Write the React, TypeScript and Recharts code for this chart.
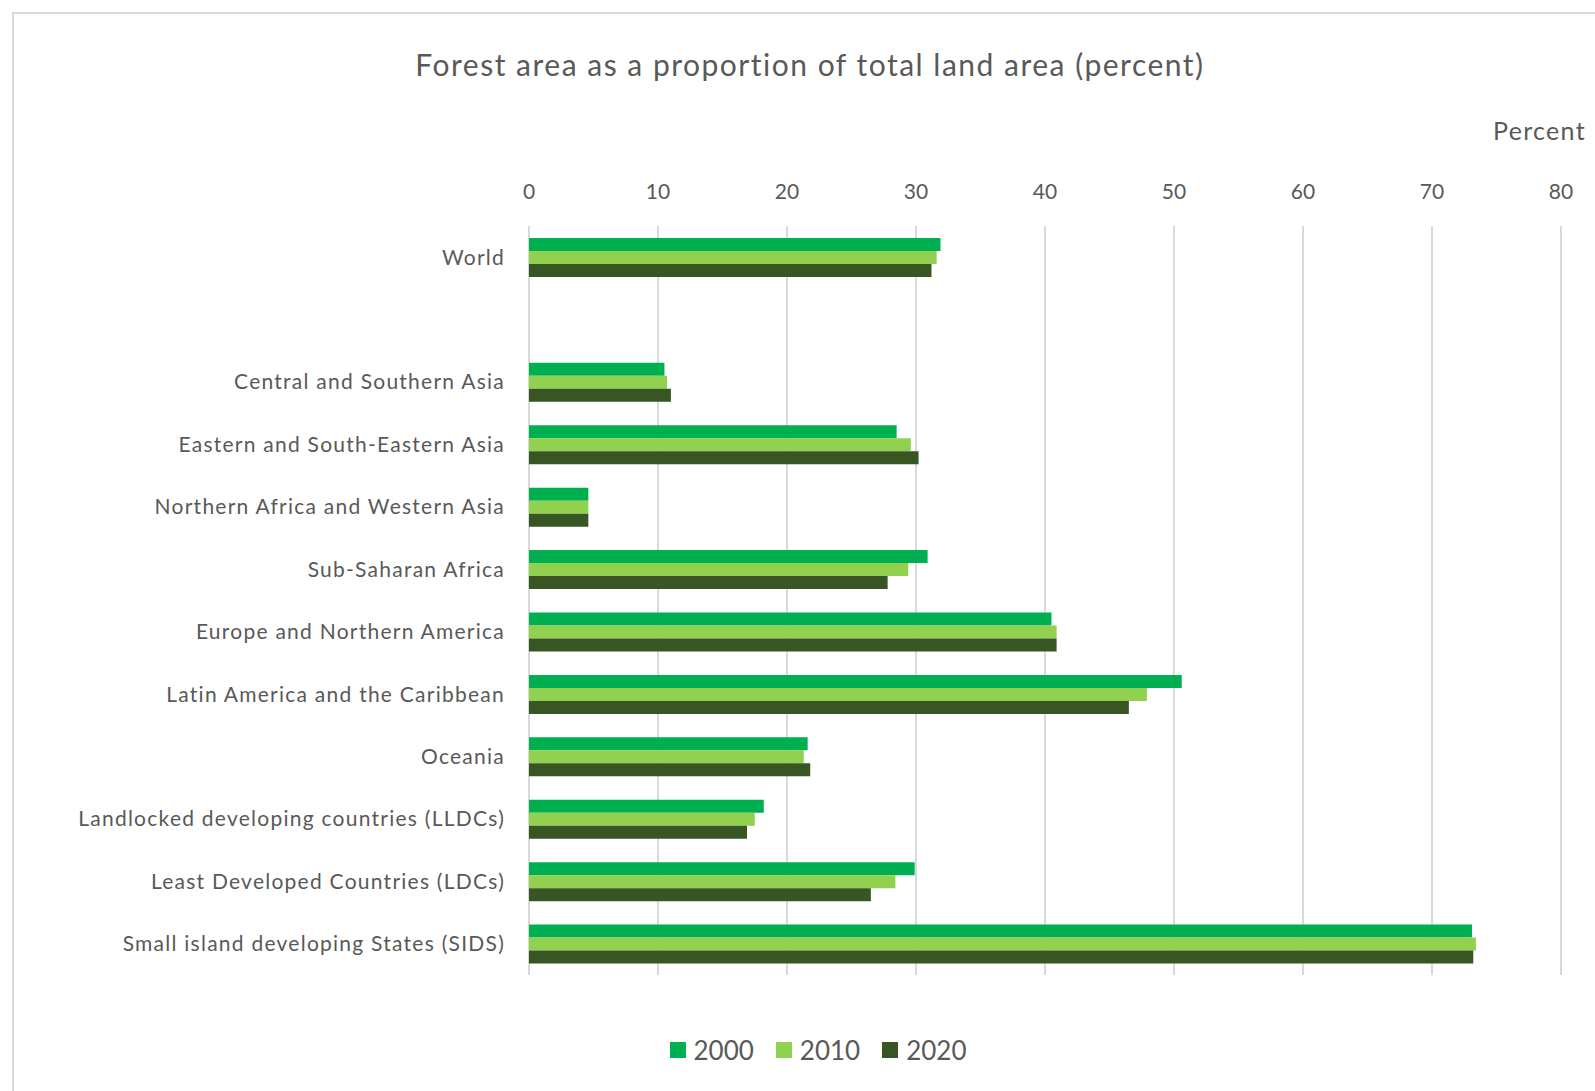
import React from "react";
import { BarChart, Bar, XAxis, YAxis, CartesianGrid, Legend } from "recharts";

const categories = [
  "World",
  "",
  "Central and Southern Asia",
  "Eastern and South-Eastern Asia",
  "Northern Africa and Western Asia",
  "Sub-Saharan Africa",
  "Europe and Northern America",
  "Latin America and the Caribbean",
  "Oceania",
  "Landlocked developing countries (LLDCs)",
  "Least Developed Countries (LDCs)",
  "Small island developing States (SIDS)",
];
const v2000 = [31.9, null, 10.5, 28.5, 4.6, 30.9, 40.5, 50.6, 21.6, 18.2, 29.9, 73.1];
const v2010 = [31.6, null, 10.7, 29.6, 4.6, 29.4, 40.9, 47.9, 21.3, 17.5, 28.4, 73.4];
const v2020 = [31.2, null, 11.0, 30.2, 4.6, 27.8, 40.9, 46.5, 21.8, 16.9, 26.5, 73.2];
const xTicks = [0, 10, 20, 30, 40, 50, 60, 70, 80];
const seriesNames = ["2000", "2010", "2020"];
const seriesColors = ["#00B050", "#92D050", "#375623"];

const data = categories.map((name, i) => ({
  name,
  y2000: v2000[i],
  y2010: v2010[i],
  y2020: v2020[i],
}));

const FONT = "Lato, 'Open Sans', sans-serif";
const TEXT = "#595959";

const LegendContent = () => (
  <div style={{ display: "flex", justifyContent: "center", alignItems: "center", fontFamily: FONT, color: TEXT, fontSize: 26 }}>
    {seriesNames.map((s, i) => (
      <div key={s} style={{ display: "flex", alignItems: "center", marginRight: i < 2 ? 22 : 0 }}>
        <span style={{ display: "inline-block", width: 16, height: 16, background: seriesColors[i], marginRight: 8 }} />
        <span>{s}</span>
      </div>
    ))}
  </div>
);

export default function App() {
  return (
    <div style={{ position: "fixed", left: 0, top: 0, width: 1595, height: 1091, overflow: "hidden", background: "#fff" }}>
      <div style={{ position: "absolute", left: 12, top: 12, width: 1700, height: 1200, border: "2px solid #d9d9d9" }} />
      <div style={{ position: "absolute", left: 0, width: 1620, top: 44, textAlign: "center", fontFamily: FONT, fontSize: 30, letterSpacing: 1.5, color: TEXT, lineHeight: "40px" }}>
        Forest area as a proportion of total land area (percent)
      </div>
      <div style={{ position: "absolute", left: 1493, top: 114, fontFamily: FONT, fontSize: 25, letterSpacing: 1.3, color: TEXT, lineHeight: "32px" }}>
        Percent
      </div>
      <div style={{ position: "absolute", left: 0, top: 0 }}>
        <BarChart
          width={1595}
          height={1091}
          data={data}
          layout="vertical"
          margin={{ top: 196, right: 34, bottom: 86, left: 0 }}
          barGap={0}
          barSize={13}
        >
          <CartesianGrid horizontal={false} stroke="#d9d9d9" strokeWidth={2} />
          <XAxis
            type="number"
            orientation="top"
            domain={[0, 80]}
            ticks={xTicks}
            axisLine={false}
            tickLine={false}
            tickSize={0}
            tickMargin={27}
            height={30}
            tick={{ fill: TEXT, fontSize: 21, fontFamily: FONT }}
          />
          <YAxis
            type="category"
            dataKey="name"
            width={529}
            axisLine={false}
            tickLine={false}
            tickSize={0}
            tickMargin={24}
            interval={0}
            tick={{ fill: TEXT, fontSize: 21, fontFamily: FONT, letterSpacing: 1.25 }}
          />
          <Legend
            verticalAlign="bottom"
            height={30}
            content={<LegendContent />}
            wrapperStyle={{ top: 1034, left: 0, width: 1636 }}
          />
          <Bar dataKey="y2000" name="2000" fill={seriesColors[0]} isAnimationActive={false} />
          <Bar dataKey="y2010" name="2010" fill={seriesColors[1]} isAnimationActive={false} />
          <Bar dataKey="y2020" name="2020" fill={seriesColors[2]} isAnimationActive={false} />
        </BarChart>
      </div>
    </div>
  );
}
